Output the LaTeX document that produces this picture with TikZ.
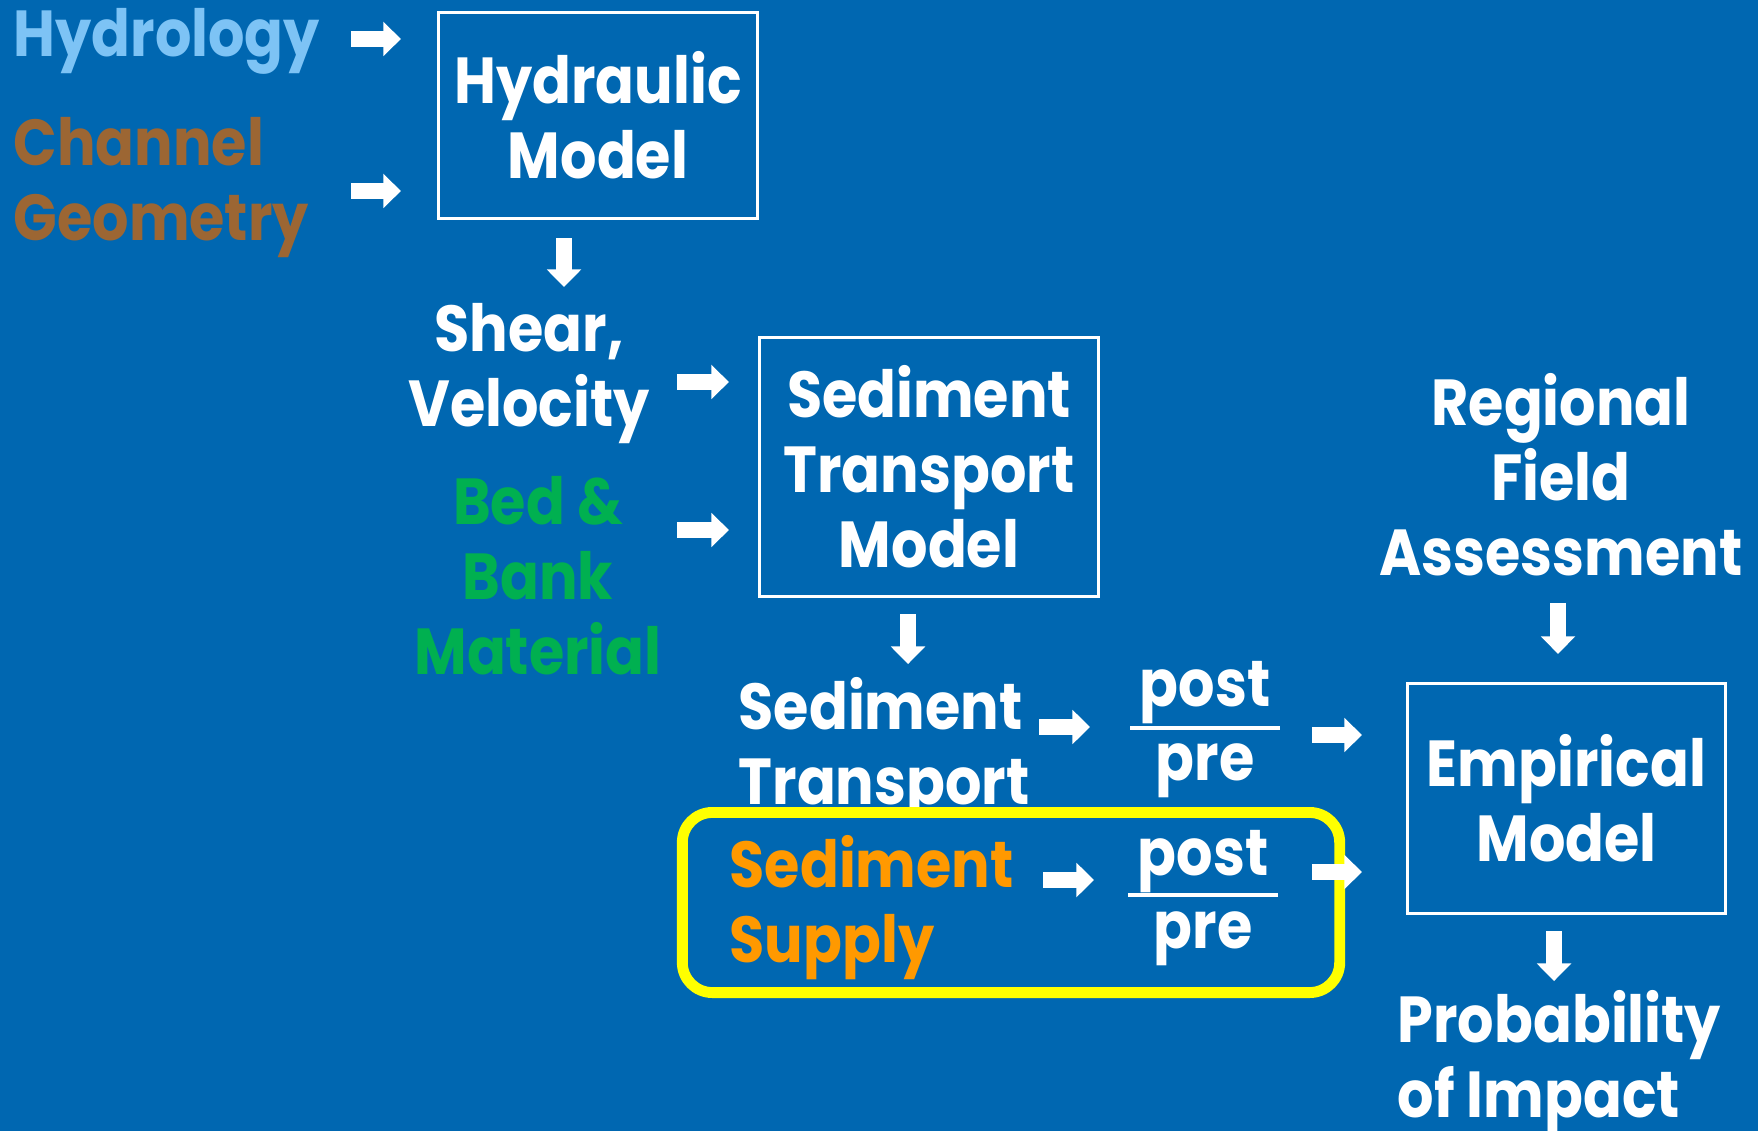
\documentclass[tikz,border=0pt]{standalone}
\usepackage{fontspec}
\setmainfont{Poppins}[FakeStretch=0.88]
\usetikzlibrary{arrows.meta}
\definecolor{slideblue}{RGB}{0,103,177}
\definecolor{hydrology}{RGB}{125,195,245}
\definecolor{geometry}{RGB}{156,102,51}
\definecolor{material}{RGB}{0,176,80}
\definecolor{supply}{RGB}{255,153,0}
\definecolor{highlight}{RGB}{255,255,0}

\begin{document}
\begin{tikzpicture}[x=0.01cm, y=-0.01cm,
    every node/.style={inner sep=0pt, text=white, align=center,
        font=\fontsize{18.5}{21.3}\selectfont\bfseries},
    modelbox/.style={draw=white, line width=0.85pt},
    focus/.style={draw=highlight, fill=slideblue, line width=3.1pt, rounded corners=0.3cm},
    fracbar/.style={draw=white, line width=1.4pt},
    flow/.style={draw=white, line width=4.3pt, -{Triangle[length=5pt,width=9.5pt]}}]
    \fill[slideblue] (0,0) rectangle (1758,1131);
    \useasboundingbox (0,0) rectangle (1758,1131);

    % inputs and hydraulic model
    \node[text=hydrology, anchor=west] (hydro) at (13,41) {Hydrology};
    \node[text=geometry, anchor=west, align=left] (chan) at (13,188) {Channel\\Geometry};
    \node[modelbox, minimum width=3.19cm, minimum height=2.06cm] (hydbox) at (598,115.5) {Hydraulic\\Model};
    \node (shear) at (529,374) {Shear,\\Velocity};
    \node[text=material] (bed) at (538,576) {Bed \&\\Bank\\Material};

    % sediment transport
    \node[modelbox, minimum width=3.39cm, minimum height=2.59cm] (sedbox) at (929,467) {Sediment\\Transport\\Model};
    \node[anchor=west, align=left] (sedtr) at (738,750) {Sediment\\Transport};
    \node[anchor=base] (post1) at (1205,706) {post};
    \node[anchor=base] (pre1) at (1205,780) {pre};
    \draw[fracbar] (1130,728) -- (1280,728);

    % sediment supply
    \node[focus, minimum width=6.57cm, minimum height=1.80cm] (focus) at (1011,902.5) {};
    \node[text=supply, anchor=west, align=left] (supply) at (729,908) {Sediment\\Supply};
    \node[anchor=base] (post2) at (1203,875) {post};
    \node[anchor=base] (pre2) at (1203,948) {pre};
    \draw[fracbar] (1128,895) -- (1278,895);

    % empirical model
    \node (regional) at (1561,475) {Regional\\Field\\Assessment};
    \node[modelbox, minimum width=3.18cm, minimum height=2.30cm] (empbox) at (1566.5,798.5) {Empirical\\Model};
    \node[anchor=west, align=left] (prob) at (1397,1063) {Probability\\of Impact};

    % arrows
    \draw[flow] ([shift={(-86,-76.5)}]hydbox.west) -- ++(50,0);
    \draw[flow] ([shift={(-86,75.5)}]hydbox.west) -- ++(50,0);
    \draw[flow] ([shift={(-34,18)}]hydbox.south) -- ++(0,49);
    \draw[flow] ([shift={(-81,-85)}]sedbox.west) -- ++(52,0);
    \draw[flow] ([shift={(-81,63)}]sedbox.west) -- ++(52,0);
    \draw[flow] ([shift={(-21,16)}]sedbox.south) -- ++(0,50);
    \draw[flow] ([shift={(301,-23)}]sedtr.west) -- ++(51,0);
    \draw[flow] ([shift={(-94,-63.5)}]empbox.west) -- ++(50,0);
    \draw[flow] ([shift={(314,-28)}]supply.west) -- ++(51,0);
    \draw[flow] ([shift={(-94,73.5)}]empbox.west) -- ++(50,0);
    \draw[flow] ([shift={(-8.5,-79)}]empbox.north) -- ++(0,51);
    \draw[flow] ([shift={(-12.5,16)}]empbox.south) -- ++(0,50);
\end{tikzpicture}
\end{document}
